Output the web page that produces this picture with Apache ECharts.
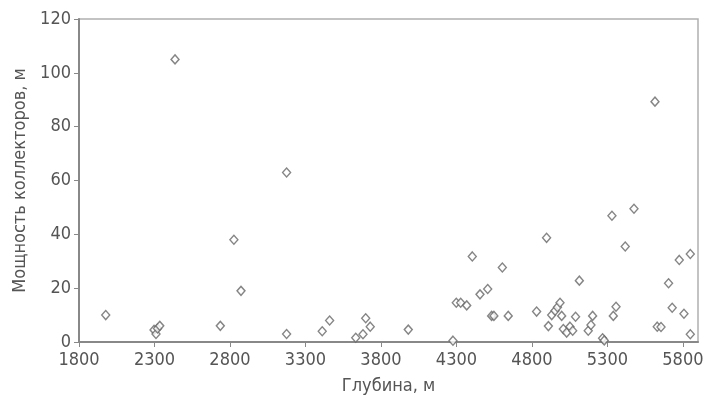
<!DOCTYPE html>
<html><head><meta charset="utf-8">
<script src="https://cdn.jsdelivr.net/npm/echarts@6/dist/echarts.min.js"></script>
<style>html,body{margin:0;padding:0;background:#fff}#c{width:717px;height:411px}</style>
</head><body><div id="c"></div>
<script>
const depth = [1977,2297,2310,2320,2335,2436,2736,2826,2873,3175,3175,
  3411,3460,3633,3681,3699,3729,3981,4277,4299,4328,4368,4405,4456,4507,4533,4548,4604,4643,
  4831,4897,4909,4931,4953,4969,4986,4997,5008,5030,5052,5070,5089,5114,5173,5191,5202,5268,5279,
  5330,5339,5357,5418,5476,5615,5630,5655,5705,5729,5776,5807,5849,5849];
const thickness = [10,4.5,3,5,6,105,6,38,19,63,3,
  4,8,1.6,2.9,8.8,5.7,4.6,0.5,14.6,14.6,13.6,31.8,17.7,19.7,9.7,9.7,27.7,9.7,
  11.3,38.7,5.9,10,11.6,12.9,14.6,9.7,4.8,3.5,5.7,4.2,9.4,22.8,4.2,6.3,9.7,1.4,0.6,
  46.9,9.7,13.1,35.5,49.5,89.3,5.7,5.6,21.8,12.7,30.5,10.5,32.7,2.9];
const xTicks = [1800,2300,2800,3300,3800,4300,4800,5300,5800];
const yTicks = [0,20,40,60,80,100,120];
const xTitle = 'Глубина, м';
const yTitle = 'Мощность коллекторов, м';

const pts = depth.map((d,i)=>[d, thickness[i]]);
const font = "'Liberation Sans Narrow','DejaVu Sans Condensed',sans-serif";
const chart = echarts.init(document.getElementById('c'));
chart.setOption({
  animation:false,
  grid:{left:79,right:19,top:19,bottom:69,show:true,borderColor:'#b0b0b0',borderWidth:1.5},
  xAxis:{type:'value',min:1800,max:5900,
    name:xTitle,nameLocation:'middle',nameGap:35,
    nameTextStyle:{fontFamily:font,fontSize:18,color:'#555'},
    axisLine:{lineStyle:{color:'#888',width:2}},
    axisTick:{show:true,length:5,customValues:xTicks,lineStyle:{color:'#888'}},
    axisLabel:{customValues:xTicks,formatter:v=>String(v),fontFamily:font,fontSize:18,color:'#555',margin:9},
    splitLine:{show:false}},
  yAxis:{type:'value',min:0,max:120,
    name:yTitle,nameLocation:'middle',nameGap:47,
    nameTextStyle:{fontFamily:font,fontSize:18,color:'#555'},
    axisLine:{show:true,lineStyle:{color:'#888',width:2}},
    axisTick:{show:true,length:5,customValues:yTicks,lineStyle:{color:'#888'}},
    axisLabel:{customValues:yTicks,formatter:v=>String(v),fontFamily:font,fontSize:18,color:'#555',margin:8},
    splitLine:{show:false}},
  series:[{type:'scatter',data:pts,symbol:'diamond',symbolSize:[8,9],
    itemStyle:{color:'#fff',borderColor:'#666',borderWidth:1.4}}]
});
</script></body></html>
